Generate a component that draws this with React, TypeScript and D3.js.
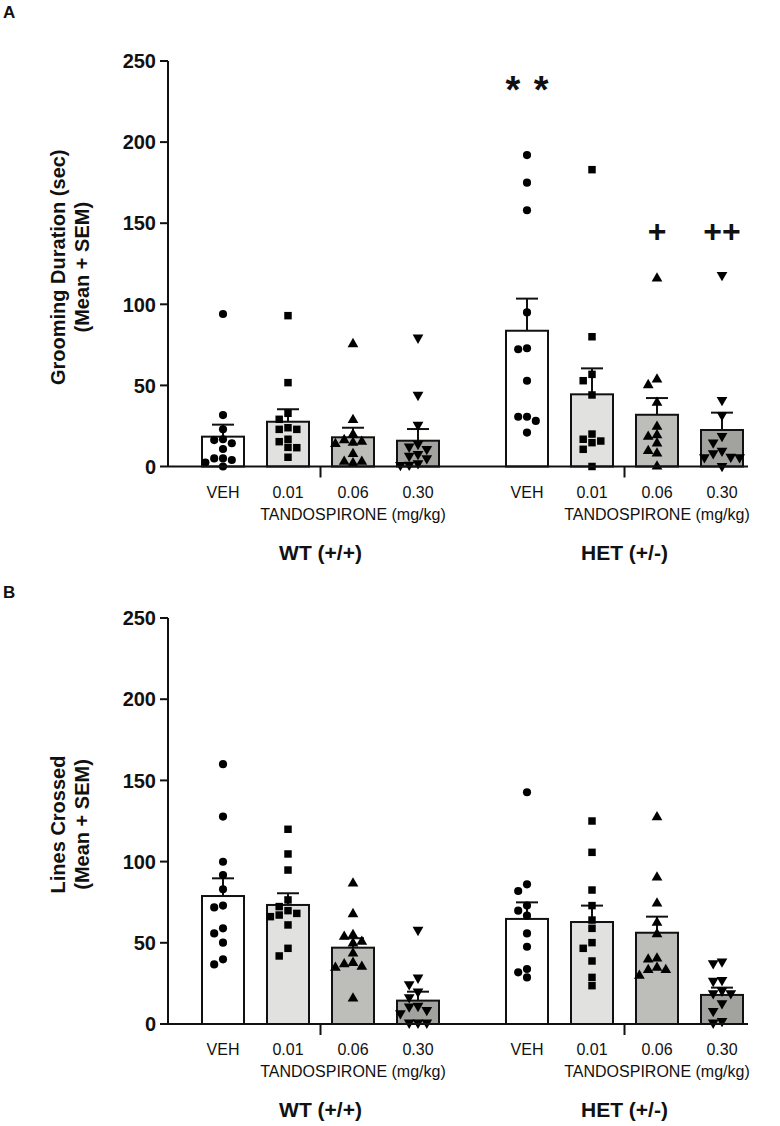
import React from "react";
import * as d3 from "d3";

const groups = ["WT (+/+)", "HET (+/-)"];
const doses = ["VEH", "0.01", "0.06", "0.30"];
const yTicks = [0, 50, 100, 150, 200, 250];
const xTitle = "TANDOSPIRONE (mg/kg)";

// Panel A: grooming duration (sec), individual animals
const groomWT = [
  [94, 31.7, 22.9, 16.3, 16.8, 14.3, 10.8, 5, 4, 5, 2.4, 0],
  [93, 51.7, 32.8, 29.1, 23.9, 22.9, 22.9, 15.3, 16.8, 11.6, 11.8, 5.7],
  [75.5, 28.7, 19.8, 16.3, 13.9, 14.7, 15.3, 7.7, 2, 3, 3],
  [79.4, 44.1, 25.6, 10.8, 12.2, 7.7, 13.9, 5, 2, 0.9, 6.5, 1],
];
const groomHET = [
  [192, 175, 158, 95, 72.3, 72.9, 52.9, 30.7, 30.7, 28.1, 20.9],
  [183, 80, 56.8, 52.9, 44.1, 20, 14.7, 16.8, 15.7, 10.6, 0],
  [116, 50.2, 53.7, 39.3, 24.5, 19.4, 18.4, 14.3, 8.1, 9.6, 0],
  [118, 41, 31.7, 18.8, 14.7, 9.7, 5.7, 8.1, 5.7, 6, 0.3],
];
const groomMeanWT = [18.4, 27.6, 18.0, 15.9];
const groomSemWT = [7.4, 7.7, 5.9, 7.2];
const groomMeanHET = [83.7, 44.5, 31.9, 22.5];
const groomSemHET = [19.8, 16.0, 10.3, 10.7];
const groomNotes = [
  { group: "HET (+/-)", dose: "VEH", text: "* *", value: 236 },
  { group: "HET (+/-)", dose: "0.06", text: "+", value: 145 },
  { group: "HET (+/-)", dose: "0.30", text: "++", value: 145 },
];

// Panel B: lines crossed
const linesWT = [
  [160, 127.7, 99.9, 91.7, 82.9, 72.9, 71.8, 58.9, 55.8, 50.1, 36.7, 39.8],
  [119.9, 104.7, 94.8, 76.4, 72.3, 69.8, 67.1, 68.1, 66.1, 61, 46.6, 41.9],
  [86.6, 67.7, 54.8, 53.8, 50.7, 49.7, 43.5, 37.7, 35.3, 34.7, 36.8, 15.8],
  [57.9, 28.5, 24.4, 19.9, 16.4, 10.7, 8.6, 11.1, 6.6, 0.8, 0.8, 0.8],
];
const linesHET = [
  [142.7, 86, 81.9, 72.9, 69.8, 66.7, 55.8, 47.6, 28.7, 33.9, 31.8],
  [125, 105.7, 82.5, 72.9, 64, 58.9, 50.1, 46.6, 38.8, 28.7, 23.6],
  [127.3, 90.3, 74.3, 62.4, 55.4, 39.8, 40.4, 34.7, 33.3, 33.3, 29.8],
  [37.4, 38.4, 27.1, 26.5, 20.5, 18.9, 18.9, 12.7, 8, 0.8, 1.8],
];
const linesMeanWT = [78.8, 73.3, 47.0, 14.4];
const linesSemWT = [10.9, 7.2, 5.8, 5.5];
const linesMeanHET = [64.7, 62.8, 56.2, 17.9];
const linesSemHET = [10.2, 10.1, 9.9, 4.5];

const FONT = "'Liberation Sans', Arial, Helvetica, sans-serif";
const fills = ["#ffffff", "#e1e2df", "#bdbeb9", "#a2a39f"];
const INK = "#111";

const symbolTypes = [d3.symbolCircle, d3.symbolSquare, d3.symbolTriangle, d3.symbolTriangle];
const symbolSizes = [52, 56, 50, 50];
const symbolRot = [0, 0, 0, 180];

function beeswarm(values: number[], y: (v: number) => number, d: number) {
  const sorted = [...values].sort((a, b) => b - a);
  const placed: { x: number; y: number }[] = [];
  for (const v of sorted) {
    const py = y(v);
    let chosen = 0;
    for (let k = 0; k < 14; k++) {
      const off = k === 0 ? 0 : (k % 2 === 1 ? -1 : 1) * Math.ceil(k / 2) * d;
      if (placed.every((p) => Math.hypot(p.x - off, p.y - py) >= d * 0.92)) {
        chosen = off;
        break;
      }
    }
    placed.push({ x: chosen, y: py });
  }
  return placed;
}

type PanelProps = {
  label: string;
  labelY: number;
  yTop: number;
  yZero: number;
  titleLines: string[];
  data: number[][][];
  means: number[][];
  sems: number[][];
  notes: { group: string; dose: string; text: string; value: number }[];
};

function Panel({ label, labelY, yTop, yZero, titleLines, data, means, sems, notes }: PanelProps) {
  const y = d3.scaleLinear().domain([0, 250]).range([yZero, yTop]);
  const xGroup = d3.scalePoint<string>().domain(groups).range([320.5, 624.5]);
  const xDose = d3.scalePoint<string>().domain(doses).range([-97.5, 97.5]);
  const axisX = 168;
  const axisRight = 748;
  const barW = 42;
  const capW = 22;
  const midY = (yTop + yZero) / 2 + 3.5;

  return (
    <g>
      <text x={3} y={labelY} fontFamily={FONT} fontWeight="bold" fontSize={17} fill={INK}>
        {label}
      </text>
      {titleLines.map((t, i) => (
        <text
          key={t}
          transform={`translate(${65 + i * 24},${midY}) rotate(-90)`}
          textAnchor="middle"
          fontFamily={FONT}
          fontWeight="bold"
          fontSize={20}
          fill={INK}
        >
          {t}
        </text>
      ))}
      <line x1={axisX} x2={axisX} y1={y(250)} y2={y(0)} stroke={INK} strokeWidth={2} />
      {yTicks.map((t) => (
        <g key={t}>
          <line x1={axisX - 8} x2={axisX} y1={y(t)} y2={y(t)} stroke={INK} strokeWidth={2} />
          <text
            x={axisX - 12}
            y={y(t)}
            dy="0.36em"
            textAnchor="end"
            fontFamily={FONT}
            fontWeight="bold"
            fontSize={20}
            fill={INK}
          >
            {t}
          </text>
        </g>
      ))}
      {groups.map((g, gi) =>
        doses.map((d, di) => {
          const cx = (xGroup(g) as number) + (xDose(d) as number);
          const m = means[gi][di];
          const s = sems[gi][di];
          const pts = beeswarm(data[gi][di], y, 8.8);
          const sym = d3.symbol().type(symbolTypes[di]).size(symbolSizes[di])() as string;
          return (
            <g key={g + d}>
              <rect
                x={cx - barW / 2}
                y={y(m)}
                width={barW}
                height={y(0) - y(m)}
                fill={fills[di]}
                stroke={INK}
                strokeWidth={2}
              />
              <line x1={cx} x2={cx} y1={y(m)} y2={y(m + s)} stroke={INK} strokeWidth={2} />
              <line x1={cx - capW / 2} x2={cx + capW / 2} y1={y(m + s)} y2={y(m + s)} stroke={INK} strokeWidth={2} />
              {pts.map((p, k) => (
                <path
                  key={k}
                  d={sym}
                  transform={`translate(${cx + p.x},${p.y}) rotate(${symbolRot[di]})`}
                  fill="#000"
                />
              ))}
            </g>
          );
        })
      )}
      <line x1={axisX} x2={axisRight} y1={y(0)} y2={y(0)} stroke={INK} strokeWidth={2} />
      {groups.map((g) => {
        const gx = xGroup(g) as number;
        return (
          <g key={g}>
            <line x1={gx} x2={gx} y1={y(0)} y2={y(0) + 11} stroke={INK} strokeWidth={2} />
            {doses.map((d) => (
              <text
                key={d}
                x={gx + (xDose(d) as number)}
                y={y(0) + 31}
                textAnchor="middle"
                fontFamily={FONT}
                fontSize={16}
                fill={INK}
              >
                {d}
              </text>
            ))}
            <text
              x={gx + ((xDose("0.01") as number) + (xDose("0.30") as number)) / 2}
              y={y(0) + 53}
              textAnchor="middle"
              fontFamily={FONT}
              fontSize={16}
              fill={INK}
            >
              {xTitle}
            </text>
            <text
              x={gx}
              y={y(0) + 93}
              textAnchor="middle"
              fontFamily={FONT}
              fontWeight="bold"
              fontSize={21}
              fill={INK}
            >
              {g}
            </text>
          </g>
        );
      })}
      {notes.map((n) => {
        const cx = (xGroup(n.group) as number) + (xDose(n.dose) as number);
        const isStar = n.text.includes("*");
        return (
          <text
            key={n.text + n.dose}
            x={cx}
            y={y(n.value) + (isStar ? 19 : 10.5)}
            textAnchor="middle"
            fontFamily={FONT}
            fontWeight="bold"
            fontSize={isStar ? 38 : 32}
            wordSpacing={isStar ? 3 : 0}
            fill={INK}
          >
            {n.text}
          </text>
        );
      })}
    </g>
  );
}

export default function App() {
  return (
    <svg
      width={780}
      height={1126}
      viewBox="0 0 780 1126"
      style={{ position: "absolute", left: 0, top: 0, background: "#fff" }}
    >
      <rect width={780} height={1126} fill="#fff" />
      <Panel
        label="A"
        labelY={18}
        yTop={61}
        yZero={466.5}
        titleLines={["Grooming Duration (sec)", "(Mean + SEM)"]}
        data={[groomWT, groomHET]}
        means={[groomMeanWT, groomMeanHET]}
        sems={[groomSemWT, groomSemHET]}
        notes={groomNotes}
      />
      <Panel
        label="B"
        labelY={598}
        yTop={618}
        yZero={1024}
        titleLines={["Lines Crossed", "(Mean + SEM)"]}
        data={[linesWT, linesHET]}
        means={[linesMeanWT, linesMeanHET]}
        sems={[linesSemWT, linesSemHET]}
        notes={[]}
      />
    </svg>
  );
}
